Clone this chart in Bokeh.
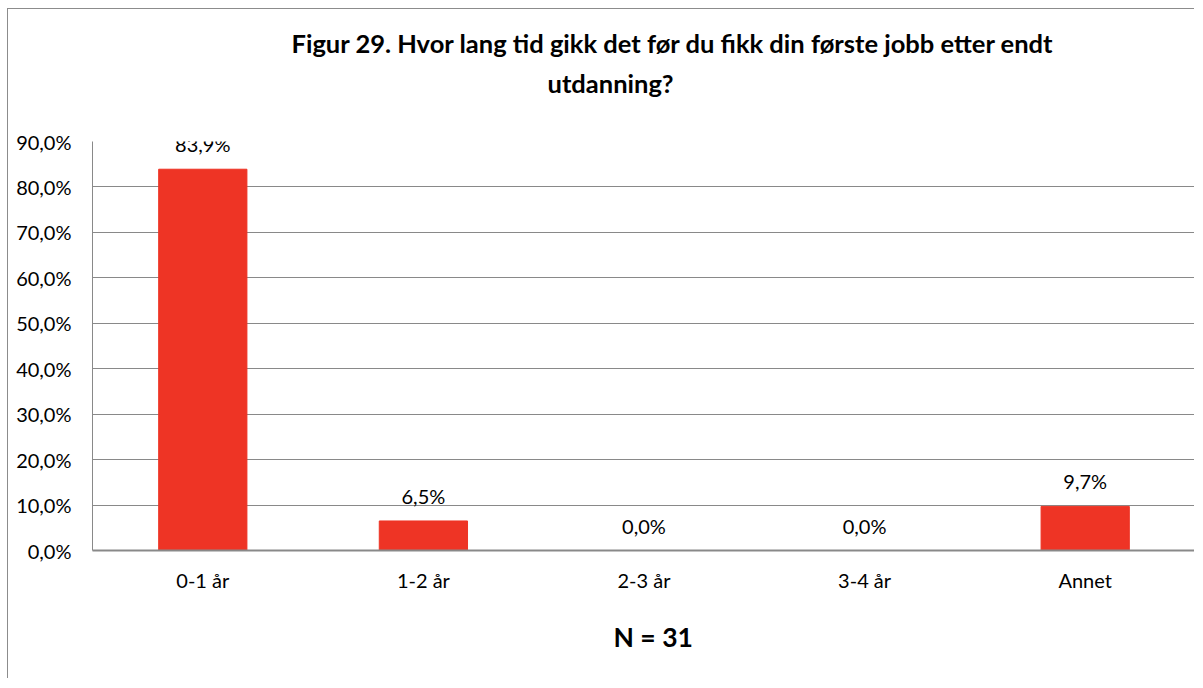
from bokeh.plotting import figure
from bokeh.models import (ColumnDataSource, FactorRange, Range1d, FixedTicker,
                          LabelSet, Title)
from bokeh.core.properties import value
from bokeh.embed import file_html
from bokeh.resources import INLINE

categories = ["0-1 år", "1-2 år", "2-3 år", "3-4 år", "Annet"]
values = [83.9, 6.5, 0.0, 0.0, 9.7]
y_ticks = [0, 10, 20, 30, 40, 50, 60, 70, 80, 90]
y_tick_labels = ["0,0%", "10,0%", "20,0%", "30,0%", "40,0%", "50,0%",
                 "60,0%", "70,0%", "80,0%", "90,0%"]
title_line1 = "Figur 29. Hvor lang tid gikk det før du fikk din første jobb etter endt"
title_line2 = "utdanning?"
note = "N = 31"

FONT = "Lato"
BAR = "#EE3425"
GRID = "#898989"

labels = [f"{v:.1f}%".replace(".", ",") for v in values]
src = ColumnDataSource(dict(cat=categories, val=values, lab=labels))

p = figure(width=1187, height=670, x_range=FactorRange(*categories),
           y_range=Range1d(0, 90), output_backend="svg", toolbar_location=None,
           min_border_left=84, min_border_right=0, min_border_top=132,
           min_border_bottom=129)
p.styles = {"margin-left": "7px", "margin-top": "8px",
            "border-left": "1px solid #8c8c8c", "border-top": "1px solid #8c8c8c"}

p.vbar(x="cat", top="val", width=0.4, source=src, color=BAR, line_color=BAR)

p.add_layout(LabelSet(x="cat", y="val", text="lab", source=src, y_offset=25,
                      text_align="center", text_baseline="middle",
                      text_font=value(FONT), text_font_size="20px",
                      text_color="#000000"))

# axes
p.yaxis.ticker = FixedTicker(ticks=y_ticks)
p.yaxis.major_label_overrides = {t: l for t, l in zip(y_ticks, y_tick_labels)}
p.yaxis.major_label_text_font = FONT
p.yaxis.major_label_text_font_size = "20px"
p.yaxis.major_label_text_color = "#000000"
p.yaxis.major_tick_out = 0
p.yaxis.major_tick_in = 0
p.yaxis.minor_tick_line_color = None
p.yaxis.major_label_standoff = 21
p.yaxis.axis_line_color = GRID
p.yaxis.axis_line_width = 1

p.xaxis.major_label_text_font = FONT
p.xaxis.major_label_text_font_size = "20px"
p.xaxis.major_label_text_color = "#000000"
p.xaxis.major_tick_line_color = None
p.xaxis.major_tick_out = 0
p.xaxis.major_label_standoff = 17
p.xaxis.axis_line_color = GRID
p.xaxis.axis_line_width = 2

p.xgrid.grid_line_color = None
p.ygrid.grid_line_color = GRID
p.ygrid.grid_line_width = 1
p.outline_line_color = None

# titles: p.title is the outer line, the added Title sits next to the frame
p.title.text = title_line1
p.title.align = "left"
p.title.offset = 199
p.title.text_font = FONT
p.title.text_font_size = "25.5px"
p.title.text_font_style = "bold"
p.title.text_color = "#000000"
p.title.standoff = -71
p.add_layout(Title(text=title_line2, align="left", offset=455, text_font=FONT,
                   text_font_size="25.5px", text_font_style="bold",
                   text_color="#000000", standoff=87), "above")

p.add_layout(Title(text=note, align="left", offset=521, text_font=FONT,
                   text_font_size="26.5px", text_font_style="bold",
                   text_color="#000000", standoff=49), "below")

open("out.html", "w").write(file_html(p, INLINE))
